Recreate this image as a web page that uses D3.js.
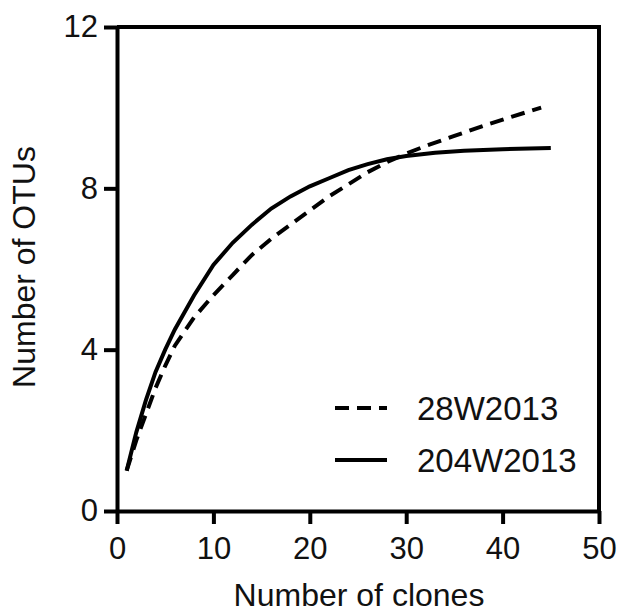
<!DOCTYPE html>
<html>
<head>
<meta charset="utf-8">
<script src="https://cdn.jsdelivr.net/npm/d3@7"></script>
<style>
  body { margin: 0; background: #fff; }
  text { font-family: "Liberation Sans", Arial, sans-serif; fill: #111; }
</style>
</head>
<body>
<div id="chart"></div>
<script>
// rarefaction data
const clones28 = [1, 2, 3, 4, 5, 6, 8, 10, 12, 14, 16, 18, 20, 22, 24, 26, 28, 30, 32, 35, 38, 41, 44];
const otus28 = [1.0, 1.75, 2.4, 3.05, 3.6, 4.1, 4.8, 5.35, 5.85, 6.35, 6.75, 7.1, 7.45, 7.8, 8.1, 8.4, 8.65, 8.86, 9.05, 9.3, 9.55, 9.78, 10.0];

const clones204 = [1, 2, 3, 4, 5, 6, 8, 10, 12, 14, 16, 18, 20, 22, 24, 26, 28, 30, 33, 36, 40, 45];
const otus204 = [1.0, 1.95, 2.75, 3.45, 4.0, 4.5, 5.35, 6.1, 6.65, 7.1, 7.5, 7.8, 8.05, 8.25, 8.45, 8.6, 8.72, 8.8, 8.88, 8.93, 8.97, 9.0];

const xTicks = [0, 10, 20, 30, 40, 50];
const yTicks = [0, 4, 8, 12];
const seriesNames = ['28W2013', '204W2013'];

const width = 622;
const height = 615;
const plotLeft = 117, plotRight = 599, plotTop = 27, plotBottom = 511;

const svg = d3.select('#chart')
    .append('svg')
    .attr('width', width)
    .attr('height', height);

const xScale = d3.scaleLinear().domain([0, 50]).range([plotLeft, plotRight]);
const yScale = d3.scaleLinear().domain([0, 12]).range([plotBottom, plotTop]);

// frame on top and right
svg.append('path')
    .attr('d', `M${plotLeft},${plotTop}H${plotRight}V${plotBottom}`)
    .attr('fill', 'none')
    .attr('stroke', '#000')
    .attr('stroke-width', 4);

const xAxis = svg.append('g')
    .attr('transform', `translate(0, ${plotBottom})`)
    .call(d3.axisBottom(xScale).tickValues(xTicks).tickSize(13).tickSizeOuter(0).tickPadding(13));

const yAxis = svg.append('g')
    .attr('transform', `translate(${plotLeft}, 0)`)
    .call(d3.axisLeft(yScale).tickValues(yTicks).tickSize(13).tickSizeOuter(0).tickPadding(6));

[xAxis, yAxis].forEach(g => {
    g.select('.domain').attr('stroke-width', 4).attr('stroke', '#000');
    g.selectAll('.tick line').attr('stroke-width', 4).attr('stroke', '#000');
    g.selectAll('.tick text')
        .attr('font-size', 31)
        .attr('font-family', '"Liberation Sans", Arial, sans-serif')
        .attr('fill', '#111');
});

svg.append('text')
    .attr('x', 359)
    .attr('y', 606)
    .attr('text-anchor', 'middle')
    .attr('font-size', 32)
    .text('Number of clones');

svg.append('text')
    .attr('transform', 'translate(35, 267) rotate(-90)')
    .attr('text-anchor', 'middle')
    .attr('font-size', 32)
    .text('Number of OTUs');

const line = d3.line()
    .x(d => xScale(d[0]))
    .y(d => yScale(d[1]));

svg.append('path')
    .datum(clones204.map((c, i) => [c, otus204[i]]))
    .attr('d', line)
    .attr('fill', 'none')
    .attr('stroke', '#000')
    .attr('stroke-width', 4);

svg.append('path')
    .datum(clones28.map((c, i) => [c, otus28[i]]))
    .attr('d', line)
    .attr('fill', 'none')
    .attr('stroke', '#000')
    .attr('stroke-width', 4)
    .attr('stroke-dasharray', '14,8');

// legend
const legend = svg.append('g');
seriesNames.forEach((name, i) => {
    const y = 408 + i * 52;
    legend.append('line')
        .attr('x1', 335).attr('x2', 387)
        .attr('y1', y).attr('y2', y)
        .attr('stroke', '#000')
        .attr('stroke-width', 4)
        .attr('stroke-dasharray', i === 0 ? '14,8' : null);
    legend.append('text')
        .attr('x', 417)
        .attr('y', y)
        .attr('dy', '0.36em')
        .attr('font-size', 33)
        .text(name);
});
</script>
</body>
</html>
